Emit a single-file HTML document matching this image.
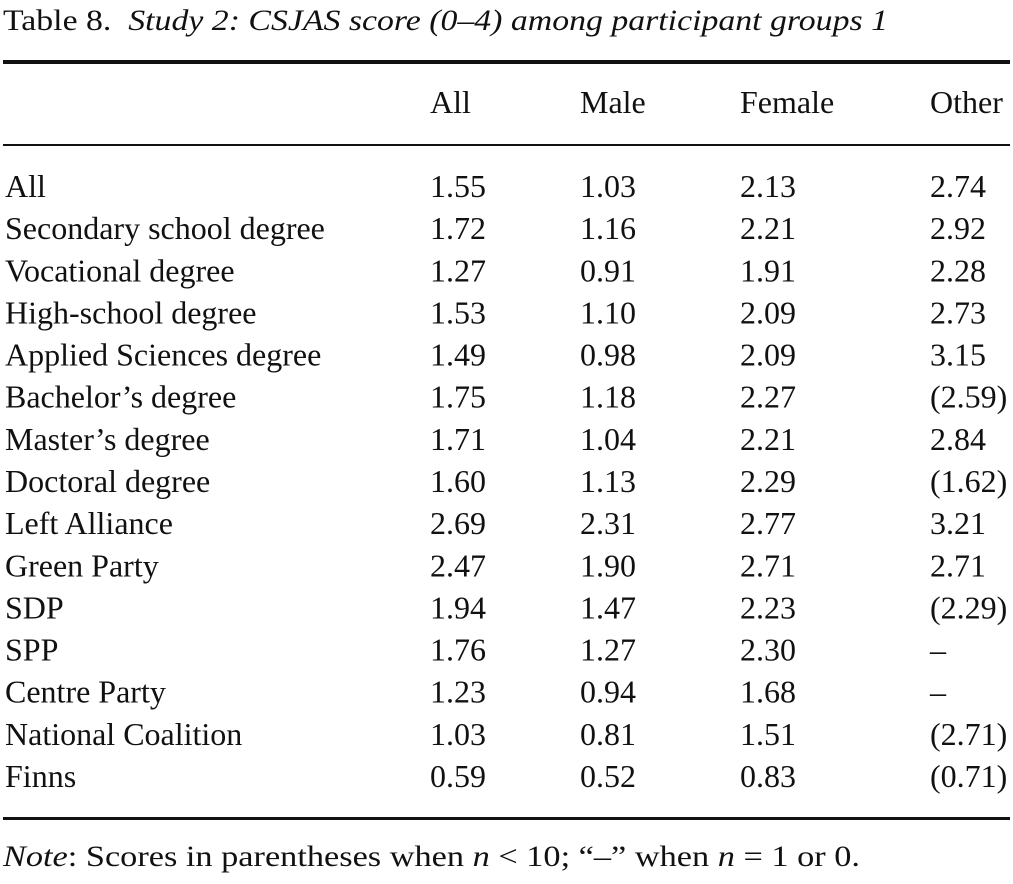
<!DOCTYPE html>
<html><head><meta charset="utf-8"><style>
html,body{margin:0;padding:0;background:#fff;}
svg{display:block;}
text{font-family:"Liberation Serif",serif;fill:#111;}
</style></head><body>
<svg width="1013" height="884" xmlns="http://www.w3.org/2000/svg">
<text x="3" y="30" font-size="30" textLength="885" lengthAdjust="spacingAndGlyphs" xml:space="preserve">Table 8.  <tspan font-style="italic">Study 2: CSJAS score (0–4) among participant groups 1</tspan></text>
<rect x="3" y="60" width="1007" height="4" fill="#111"/>
<g>
<text x="430" y="113" font-size="32">All</text>
<text x="580" y="113" font-size="32">Male</text>
<text x="740" y="113" font-size="32">Female</text>
<text x="930" y="113" font-size="32">Other</text>
</g>
<rect x="3" y="144" width="1007" height="2" fill="#111"/>
<g id="body"></g>
<rect x="3" y="817" width="1007" height="3" fill="#111"/>
<text x="3" y="866" font-size="30" textLength="857" lengthAdjust="spacingAndGlyphs"><tspan font-style="italic">Note</tspan>: Scores in parentheses when <tspan font-style="italic">n</tspan> &lt; 10; “–” when <tspan font-style="italic">n</tspan> = 1 or 0.</text>
</svg>
<script>
const rowLabels=["All","Secondary school degree","Vocational degree","High-school degree","Applied Sciences degree","Bachelor’s degree","Master’s degree","Doctoral degree","Left Alliance","Green Party","SDP","SPP","Centre Party","National Coalition","Finns"];
const colAll=["1.55","1.72","1.27","1.53","1.49","1.75","1.71","1.60","2.69","2.47","1.94","1.76","1.23","1.03","0.59"];
const colMale=["1.03","1.16","0.91","1.10","0.98","1.18","1.04","1.13","2.31","1.90","1.47","1.27","0.94","0.81","0.52"];
const colFemale=["2.13","2.21","1.91","2.09","2.09","2.27","2.21","2.29","2.77","2.71","2.23","2.30","1.68","1.51","0.83"];
const colOther=["2.74","2.92","2.28","2.73","3.15","(2.59)","2.84","(1.62)","3.21","2.71","(2.29)","–","–","(2.71)","(0.71)"];
const NS="http://www.w3.org/2000/svg";
const body=document.getElementById('body');
const cols=[[5,rowLabels,'label'],[430,colAll,'all'],[580,colMale,'male'],[740,colFemale,'female'],[930,colOther,'other']];
rowLabels.forEach((lab,i)=>{
  const y=197+i*42.14;
  const g=document.createElementNS(NS,'g');
  
  
  cols.forEach(([x,arr,nm])=>{
    const t=document.createElementNS(NS,'text');
    t.setAttribute('x',x);t.setAttribute('y',y);t.setAttribute('font-size','32');
    
    
    t.textContent=arr[i];
    g.appendChild(t);
  });
  body.appendChild(g);
});
</script>
</body></html>
